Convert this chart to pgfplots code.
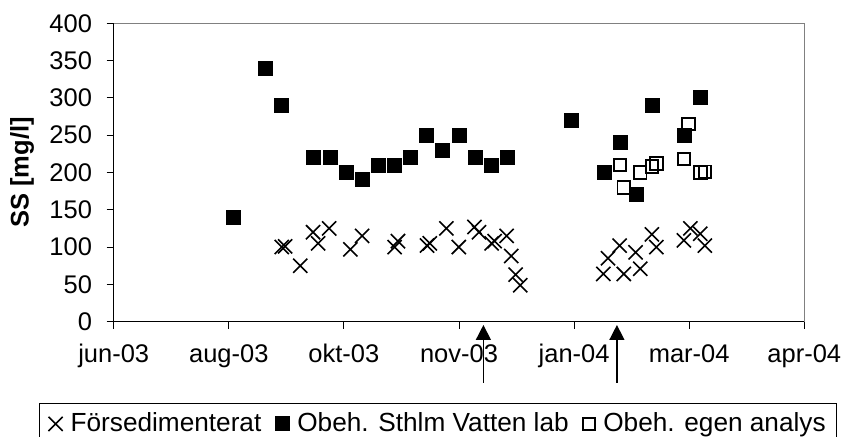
\documentclass[border=0pt]{standalone}
\usepackage{fontspec}
\setmainfont{Liberation Sans}
\usepackage{pgfplots}
\pgfplotsset{compat=1.18}
\usetikzlibrary{arrows.meta}

% x values: days after the first tick (jun-03); ticks every 50 days
\begin{document}
\fontsize{25.5bp}{30bp}\selectfont
\begin{tikzpicture}
\useasboundingbox (0,0) rectangle (845bp,437bp);
\begin{axis}[
  at={(113.7bp,115.3bp)}, anchor=south west,
  scale only axis, width=690.6bp, height=298.4bp,
  xmin=0, xmax=300, ymin=0, ymax=400,
  xtick={0,50,...,300},
  xticklabels={jun-03,aug-03,okt-03,nov-03,jan-04,mar-04,apr-04},
  ytick={0,50,...,400},
  axis x line*=bottom, axis y line*=left,
  tick align=outside, major tick length=7bp,
  tick style={black, line width=1bp},
  axis line style={black, line width=1.3bp},
  /pgf/number format/assume math mode=true,
  tick label style={font=\fontsize{25.5bp}{30bp}\selectfont},
  xticklabel style={yshift=-7bp},
  yticklabel style={xshift=-6bp},
  ylabel={SS [mg/l]},
  ylabel style={font=\bfseries\fontsize{25.5bp}{30bp}\selectfont,
    at={(axis description cs:-0.1328,0.5)}, anchor=center},
  clip=false,
  legend columns=3,
  legend image code/.code={\draw[mark repeat=2,mark phase=2,#1]
    plot coordinates {(0bp,0bp)(8bp,0bp)(16bp,0bp)};},
  legend style={
    at={(-0.1082,-0.2725)}, anchor=north west,
    draw=black, line width=1bp,
    font=\fontsize{26.2bp}{30bp}\selectfont,
    inner xsep=9bp, inner ysep=7bp,
    /tikz/every odd column/.append style={column sep=6bp},
    /tikz/every even column/.append style={column sep=12bp},
  },
  legend cell align=left,
]
% plot frame: grey top and right edges
\draw[gray, line width=1.5bp] (rel axis cs:0,1) -- (rel axis cs:1,1) -- (rel axis cs:1,0);

% Försedimenterat
\addplot[only marks, mark=x, mark size=10bp,
  mark options={line width=1.6bp, black}] coordinates {
  (73,100) (74.5,101) (81,75) (86.6,120) (88.8,105) (93.6,125)
  (102.8,97) (107.9,115) (122,100) (123.5,108)
  (136.1,102) (137.3,105) (144.5,125) (149.9,100) (156.7,127) (158.7,120)
  (164.2,105) (165.5,108) (170.7,115) (172.7,88) (174.6,63) (176.6,49)
  (212.7,64) (214.7,85) (219.8,102) (221.6,64) (226.7,93) (228.7,71)
  (233.8,117) (235.7,100) (247.7,109) (250.5,125) (254.8,118) (256.8,102)
};
\addlegendentry{Försedimenterat}

% Obeh. Sthlm Vatten lab
\addplot[only marks, mark=square*, mark size=7bp,
  mark options={line width=1bp, draw=black, fill=black}] coordinates {
  (52,140) (66,340) (73,290) (87,220) (94,220) (101,200) (108,190)
  (115,210) (122,210) (129,220) (136,250) (143,230) (150,250) (157,220)
  (164,210) (171,220) (199,270) (213,200) (220,240) (227,170) (234,290)
  (248,250) (255,300)
};
\addlegendentry{Obeh. Sthlm Vatten lab}

% Obeh. egen analys
\addplot[only marks, mark=square, mark size=6.3bp,
  mark options={line width=1.9bp, draw=black, fill=white}] coordinates {
  (220,210) (221.6,180) (228.7,200) (233.8,208) (235.7,212)
  (247.7,218) (249.8,265) (254.8,200) (256.8,201)
};
\addlegendentry{Obeh. egen analys}

% sampling events marked below the time axis
\draw[line width=1.4bp, -{Triangle[length=15bp,width=15bp]}]
  (axis cs:160.6,-81.8) -- (axis cs:160.6,-4.4);
\draw[line width=1.4bp, -{Triangle[length=15bp,width=15bp]}]
  (axis cs:218.6,-81.8) -- (axis cs:218.6,-4.4);
\end{axis}
\end{tikzpicture}
\end{document}
